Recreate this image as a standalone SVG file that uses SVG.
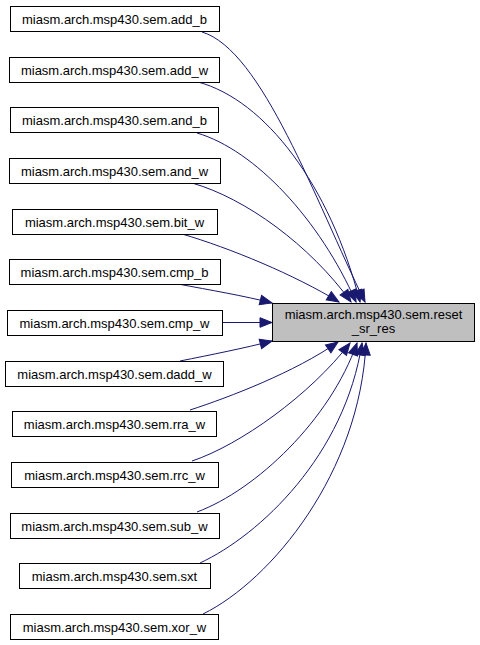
<svg xmlns="http://www.w3.org/2000/svg" width="480" height="645" viewBox="0 0 480 645">
<style>
.n rect{fill:#ffffff;stroke:#000000;stroke-width:1}
#reset rect{fill:#bfbfbf}
text{font-family:"Liberation Sans",Arial,Helvetica,sans-serif;font-size:13px;fill:#000000;text-anchor:middle}
.e path{fill:none;stroke:#191970;stroke-width:1}
</style>
<defs>
<marker id="ah" markerUnits="userSpaceOnUse" markerWidth="16" markerHeight="14" refX="13" refY="6" orient="auto">
<path d="M1,1.2 L13,6 L1,10.8 z" fill="#191970" stroke="#191970" stroke-width="1"/>
</marker>
</defs>
<rect width="480" height="645" fill="#ffffff"/>
<g id="connectors" class="e">
<path marker-end="url(#ah)" d="M202,32 C262,50 315,200 365,302"/>
<path marker-end="url(#ah)" d="M198,82 C265,100 330,185 360,302"/>
<path marker-end="url(#ah)" d="M197,133 C255,150 320,220 356,302"/>
<path marker-end="url(#ah)" d="M192,183 C245,198 310,245 351,302"/>
<path marker-end="url(#ah)" d="M182,234 C230,248 295,275 339,302"/>
<path marker-end="url(#ah)" d="M178,284 C210,290 245,296 272,303"/>
<path marker-end="url(#ah)" d="M222,322.5 L272,322.5"/>
<path marker-end="url(#ah)" d="M180,361 C210,355 245,348 272,341"/>
<path marker-end="url(#ah)" d="M190,410 C230,397 295,372 338,342"/>
<path marker-end="url(#ah)" d="M192,461 C240,445 310,395 350,343"/>
<path marker-end="url(#ah)" d="M197,512 C256,490 330,420 357,343"/>
<path marker-end="url(#ah)" d="M200,563 C260,535 345,455 362,343"/>
<path marker-end="url(#ah)" d="M203,614 C272,580 360,472 366,343"/>
</g>
<g id="add_b" class="n"><rect x="10.5" y="6.5" width="209" height="25"/><text x="114.5" y="23.5">miasm.arch.msp430.sem.add_b</text></g>
<g id="add_w" class="n"><rect x="9.5" y="57.5" width="210" height="25"/><text x="114.5" y="74.5">miasm.arch.msp430.sem.add_w</text></g>
<g id="and_b" class="n"><rect x="10.5" y="107.5" width="208" height="25"/><text x="114.5" y="124.5">miasm.arch.msp430.sem.and_b</text></g>
<g id="and_w" class="n"><rect x="9.5" y="158.5" width="211" height="25"/><text x="114.5" y="175.5">miasm.arch.msp430.sem.and_w</text></g>
<g id="bit_w" class="n"><rect x="12.5" y="209.5" width="205" height="25"/><text x="114.5" y="226.5">miasm.arch.msp430.sem.bit_w</text></g>
<g id="cmp_b" class="n"><rect x="9.5" y="259.5" width="211" height="25"/><text x="114.5" y="276.5">miasm.arch.msp430.sem.cmp_b</text></g>
<g id="cmp_w" class="n"><rect x="7.5" y="310.5" width="215" height="25"/><text x="114.5" y="327.5">miasm.arch.msp430.sem.cmp_w</text></g>
<g id="dadd_w" class="n"><rect x="5.5" y="361.5" width="218" height="25"/><text x="114.5" y="378.5">miasm.arch.msp430.sem.dadd_w</text></g>
<g id="rra_w" class="n"><rect x="12.5" y="411.5" width="204" height="25"/><text x="114.5" y="428.5">miasm.arch.msp430.sem.rra_w</text></g>
<g id="rrc_w" class="n"><rect x="11.5" y="462.5" width="207" height="25"/><text x="114.5" y="479.5">miasm.arch.msp430.sem.rrc_w</text></g>
<g id="sub_w" class="n"><rect x="10.5" y="513.5" width="209" height="25"/><text x="114.5" y="530.5">miasm.arch.msp430.sem.sub_w</text></g>
<g id="sxt" class="n"><rect x="19.5" y="563.5" width="191" height="25"/><text x="114.5" y="580.5">miasm.arch.msp430.sem.sxt</text></g>
<g id="xor_w" class="n"><rect x="10.5" y="614.5" width="208" height="25"/><text x="114.5" y="631.5">miasm.arch.msp430.sem.xor_w</text></g>
<g id="reset" class="n"><rect x="272.5" y="303.5" width="202" height="38"/><text x="373.5" y="318.5">miasm.arch.msp430.sem.reset</text><text x="373.5" y="333">_sr_res</text></g>
</svg>
